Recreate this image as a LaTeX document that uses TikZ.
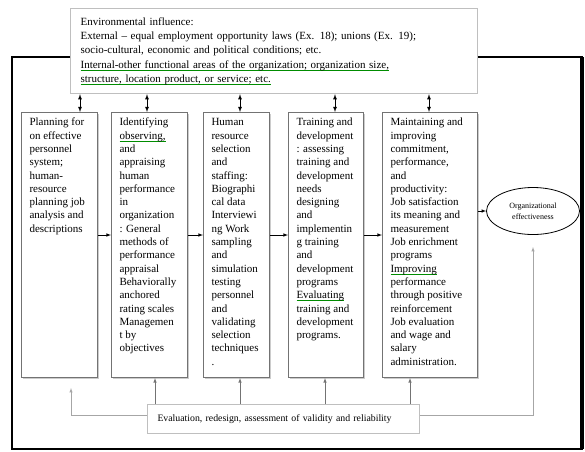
\documentclass[tikz,border=0pt]{standalone}
\usepackage{fontspec}
\setmainfont{Liberation Serif}
\usetikzlibrary{shapes.geometric,shadows}
\newsavebox{\spellbox}
\newcommand{\spellmark}[1]{\leavevmode\sbox{\spellbox}{#1}\rlap{\color{green!55!black}\rule[-2.2pt]{\wd\spellbox}{0.5pt}}\usebox{\spellbox}}
\newcommand{\stagelines}[2]{\parbox[t][257pt][t]{#1}{\begin{tabular}[t]{@{}l@{}}#2\end{tabular}}}
\begin{document}
\begin{tikzpicture}[x = 1pt, y = -1pt, >= latex, every node/.style = { font = \fontsize{11}{13.3}\selectfont },
		stage/.style = { draw = black!55, fill = white, line width = 1pt, anchor = north west, inner xsep = 8pt, inner ysep = 4pt, drop shadow={shadow xshift=1.2pt,shadow yshift=-1.2pt,fill=black!40} },
		link/.style = { <->, line width = 0.8pt },
		flow/.style = { ->, line width = 0.6pt },
		feed/.style = { ->, draw = black!55, line width = 0.6pt },
		back/.style = { ->, draw = black!35, line width = 0.5pt },
		frame/.style = { line width = 2pt }]
	\useasboundingbox (0,0) rectangle (585,451);
	% environment
	\node[draw = black!25, line width = 1.2pt, anchor = north west, minimum width = 407pt, minimum height = 85pt, text width = 387pt, inner xsep = 10pt, align = left, font = \fontsize{11}{14.3}\selectfont] (env) at (70,8) {Environmental influence:\\
		External -- equal employment opportunity laws (Ex. 18); unions (Ex. 19);\\
		socio-cultural, economic and political conditions; etc.\\
		\spellmark{Internal-other functional areas of the organization; organization size,}\\
		\spellmark{structure, location product, or service; etc.}};
	% stages
	\node[stage] (plan) at (21,112) {\stagelines{60pt}{Planning for\\ on effective\\ personnel\\ system;\\ human-\\ resource\\ planning job\\ analysis and\\ descriptions}};
	\node[stage] (apprais) at (111,112) {\stagelines{60pt}{Identifying\\ \spellmark{observing,}\\ and\\ appraising\\ human\\ performance\\ in\\ organization\\ : General\\ methods of\\ performance\\ appraisal\\ Behaviorally\\ anchored\\ rating scales\\ Managemen\\ t by\\ objectives}};
	\node[stage] (staff) at (203,112) {\stagelines{50pt}{Human\\ resource\\ selection\\ and\\ staffing:\\ Biographi\\ cal data\\ Interviewi\\ ng Work\\ sampling\\ and\\ simulation\\ testing\\ personnel\\ and\\ validating\\ selection\\ techniques\\ .}};
	\node[stage] (train) at (288,112) {\stagelines{59pt}{Training and\\ development\\ : assessing\\ training and\\ development\\ needs\\ designing\\ and\\ implementin\\ g training\\ and\\ development\\ programs\\ \spellmark{Evaluating}\\ training and\\ development\\ programs.}};
	\node[stage] (maintain) at (382,112) {\stagelines{79pt}{Maintaining and\\ improving\\ commitment,\\ performance,\\ and\\ productivity:\\ Job satisfaction\\ its meaning and\\ measurement\\ Job enrichment\\ programs\\ \spellmark{Improving}\\ performance\\ through positive\\ reinforcement\\ Job evaluation\\ and wage and\\ salary\\ administration.}};
	\node[ellipse, draw, line width = 0.8pt, minimum width = 93pt, minimum height = 47pt, inner sep = 0pt, align = center, font = \fontsize{8}{11}\selectfont] (eff) at (533,211) {Organizational\\ effectiveness};
	\node[draw = black!25, line width = 1pt, anchor = north west, minimum width = 272pt, minimum height = 29pt, text width = 252pt, inner xsep = 10pt, align = left, font = \fontsize{9.8}{11}\selectfont] (eval) at (147,404) {Evaluation, redesign, assessment of validity and reliability};
	% columns and rows for the connectors
	\coordinate (t1) at (80,0);
	\coordinate (t2) at (147,0);
	\coordinate (t3) at (240,0);
	\coordinate (t4) at (335,0);
	\coordinate (t5) at (429,0);
	\coordinate (d2) at (155,0);
	\coordinate (d3) at (240,0);
	\coordinate (d4) at (325,0);
	\coordinate (d5) at (410,0);
	\coordinate (top) at (0,57);
	\coordinate (mid) at (0,235);
	\coordinate (ret) at (0,415);
	\coordinate (lend) at (71,388);
	\coordinate (rend) at (533,247);
	% frame
	\draw[frame] (env.west |- top) -- (12,57) -- (12,449) -- (582,449) -- (582,57) -- (env.east |- top);
	\draw[line width = 3.5pt] (582,57) -- (582,449);
	% environment to stages
	\draw[link] (t1 |- env.south) -- (t1 |- plan.north);
	\draw[link] (t2 |- env.south) -- (t2 |- apprais.north);
	\draw[link] (t3 |- env.south) -- (t3 |- staff.north);
	\draw[link] (t4 |- env.south) -- (t4 |- train.north);
	\draw[link] (t5 |- env.south) -- (t5 |- maintain.north);
	% stage flow
	\draw[flow] (plan.east |- mid) -- (apprais.west |- mid);
	\draw[flow] (apprais.east |- mid) -- (staff.west |- mid);
	\draw[flow] (staff.east |- mid) -- (train.west |- mid);
	\draw[flow] (train.east |- mid) -- (maintain.west |- mid);
	\draw[flow] (maintain.east |- eff.west) -- (eff.west);
	% evaluation feedback
	\draw[feed] (d2 |- eval.north) -- (d2 |- apprais.south);
	\draw[feed] (d3 |- eval.north) -- (d3 |- staff.south);
	\draw[feed] (d4 |- eval.north) -- (d4 |- train.south);
	\draw[feed] (d5 |- eval.north) -- (d5 |- maintain.south);
	\draw[back] (eval.west |- ret) -| (lend);
	\draw[back] (eval.east |- ret) -| (rend);
\end{tikzpicture}
\end{document}
